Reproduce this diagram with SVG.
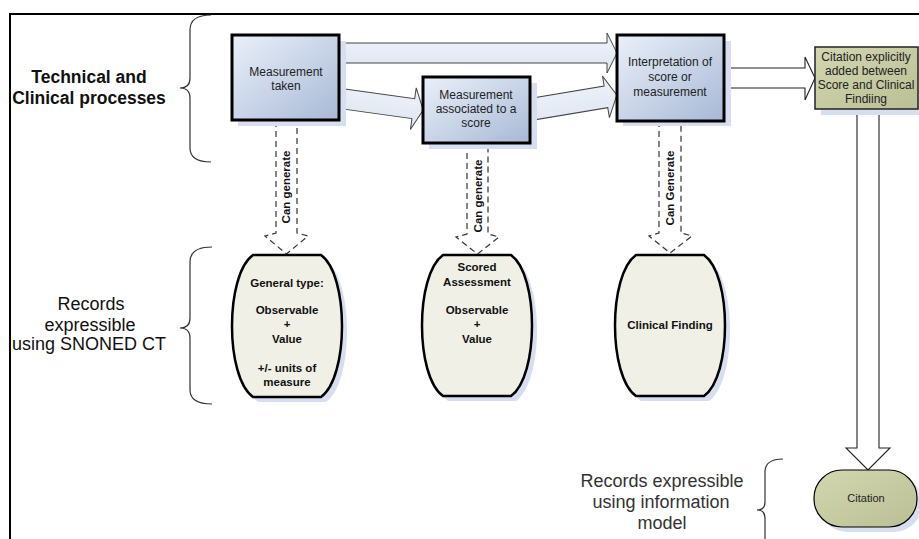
<svg xmlns="http://www.w3.org/2000/svg" width="919" height="539" viewBox="0 0 919 539">
<defs>
<linearGradient id="gBlue" x1="0" y1="0" x2="1" y2="1">
<stop offset="0" stop-color="#eaf0f9"/>
<stop offset="1" stop-color="#a8b9d6"/>
</linearGradient>
<linearGradient id="gOlive" x1="0" y1="0" x2="1" y2="1">
<stop offset="0" stop-color="#d3d7b0"/>
<stop offset="1" stop-color="#bbbf95"/>
</linearGradient>
<linearGradient id="gArrow" x1="0" y1="0" x2="0" y2="1">
<stop offset="0" stop-color="#eef2f9"/>
<stop offset="1" stop-color="#dfe6f2"/>
</linearGradient>
<style>
.frame{fill:none;stroke:#000;stroke-width:2}
.brace{fill:none;stroke:#333;stroke-width:1.2}
.box{fill:url(#gBlue);stroke:#000;stroke-width:3}
.shadow{fill:#d6deef}
.cite{fill:url(#gOlive);stroke:#222;stroke-width:1.5}
.barrel{fill:#f1f0e7;stroke:#000;stroke-width:2.5}
.blk{fill:url(#gArrow);stroke:#444;stroke-width:1}
.wblk{fill:#fff;stroke:#222;stroke-width:1.1}
.dash{fill:none;stroke:#333;stroke-width:1.2;stroke-dasharray:6 4}
.big{font-family:"Liberation Sans",Arial,sans-serif;font-size:18px;fill:#111;text-anchor:middle}
.bigb{font-family:"Liberation Sans",Arial,sans-serif;font-size:17.5px;font-weight:bold;fill:#111;text-anchor:middle}
.lbl{font-family:"Liberation Sans",Arial,sans-serif;font-size:12px;fill:#222;text-anchor:middle}
.bold{font-family:"Liberation Sans",Arial,sans-serif;font-size:11.5px;font-weight:bold;fill:#111;text-anchor:middle}
.info{font-family:"Liberation Sans",Arial,sans-serif;font-size:18px;fill:#333;text-anchor:middle}
</style>
</defs>
<rect width="919" height="539" fill="#fff"/>
<path class="frame" d="M10,540 L10,14 L920,14"/>

<g id="labels">
<path class="brace" d="M211,15 Q190,15 190,30 L190,78 Q190,88 180,88 Q190,88 190,98 L190,148 Q190,162 211,162"/>
<text class="bigb" x="89" y="83">Technical and</text>
<text class="bigb" x="89" y="104">Clinical processes</text>
<path class="brace" d="M212,247 Q190,247 190,262 L190,318 Q190,328 180,328 Q190,328 190,338 L190,390 Q190,404 212,404"/>
<text class="big" x="91" y="310">Records</text>
<text class="big" x="90" y="331">expressible</text>
<text class="big" x="89" y="350">using SNONED CT</text>
<path class="brace" d="M783,459 Q765,459 765,472 L765,502 Q765,510 757,510 Q765,510 765,518 L765,545"/>
<text class="info" x="662" y="487">Records expressible</text>
<text class="info" x="661" y="508">using information</text>
<text class="info" x="662" y="529">model</text>
</g>

<g id="connectors">
<polygon class="blk" points="340,43 607,43 607,33 617,53 607,73 607,63 340,63"/>
<g transform="translate(340,98.5) rotate(7.9)">
<polygon class="blk" points="0,-10 74,-10 74,-21 84,0 74,21 74,10 0,10"/>
</g>
<g transform="translate(530,109.5) rotate(-9.46)">
<polygon class="blk" points="0,-11 77,-11 77,-21 88,0 77,21 77,11 0,11"/>
</g>
<polygon class="wblk" points="724,68 805,68 805,57 815,78 805,100 805,88 724,88"/>
<polygon class="wblk" points="857,109 857,448 846,448 868,470 890,448 879,448 879,109"/>

<path class="dash" d="M276,121 L276,233 L265,236 L286.5,254 L308,236 L297,233 L297,121"/>
<text class="bold" transform="translate(286,187) rotate(-90)" y="4">Can generate</text>
<path class="dash" d="M467,143 L467,234 L456,237 L477.5,254 L499,237 L488,234 L488,143"/>
<text class="bold" transform="translate(478,196) rotate(-90)" y="4">Can generate</text>
<path class="dash" d="M659,121 L659,233 L649,236 L670,253 L692,236 L681,233 L681,121"/>
<text class="bold" transform="translate(670,188) rotate(-90)" y="4">Can Generate</text>
</g>

<g id="n-measurement-taken">
<rect class="shadow" x="238" y="41" width="108" height="85"/>
<rect class="box" x="232" y="35" width="107" height="85"/>
<text class="lbl" x="286" y="76">Measurement</text>
<text class="lbl" x="286" y="90">taken</text>
</g>
<g id="n-measurement-score">
<rect class="shadow" x="429" y="83" width="108" height="66"/>
<rect class="box" x="423" y="77" width="107" height="66"/>
<text class="lbl" x="476" y="99">Measurement</text>
<text class="lbl" x="476" y="113">associated to a</text>
<text class="lbl" x="476" y="127">score</text>
</g>
<g id="n-interpretation">
<rect class="shadow" x="623" y="41" width="108" height="85"/>
<rect class="box" x="617" y="35" width="107" height="86"/>
<text class="lbl" x="670" y="66">Interpretation of</text>
<text class="lbl" x="670" y="81">score or</text>
<text class="lbl" x="670" y="96">measurement</text>
</g>
<g id="n-citation-added">
<rect class="shadow" x="821" y="53" width="103" height="62"/>
<rect class="cite" x="815" y="47" width="103" height="62"/>
<text class="lbl" x="866" y="61">Citation explicitly</text>
<text class="lbl" x="866" y="75">added between</text>
<text class="lbl" x="866" y="89">Score and Clinical</text>
<text class="lbl" x="866" y="103">Findiing</text>
</g>

<g id="n-general-type">
<path class="shadow" transform="translate(5,5)" d="M253,255 L321,255 C349,275 349,377 321,397 L253,397 C225,377 225,275 253,255 Z"/>
<path class="barrel" d="M253,255 L321,255 C349,275 349,377 321,397 L253,397 C225,377 225,275 253,255 Z"/>
<text class="bold" x="287" y="287">General type:</text>
<text class="bold" x="287" y="314">Observable</text>
<text class="bold" x="287" y="328">+</text>
<text class="bold" x="287" y="343">Value</text>
<text class="bold" x="287" y="372">+/- units of</text>
<text class="bold" x="287" y="386">measure</text>
</g>
<g id="n-scored-assessment">
<path class="shadow" transform="translate(5,5)" d="M443,255 L511,255 C539,275 539,376 511,396 L443,396 C415,376 415,275 443,255 Z"/>
<path class="barrel" d="M443,255 L511,255 C539,275 539,376 511,396 L443,396 C415,376 415,275 443,255 Z"/>
<text class="bold" x="477" y="271">Scored</text>
<text class="bold" x="477" y="286">Assessment</text>
<text class="bold" x="477" y="314">Observable</text>
<text class="bold" x="477" y="328">+</text>
<text class="bold" x="477" y="343">Value</text>
</g>
<g id="n-clinical-finding">
<path class="shadow" transform="translate(5,5)" d="M636,255 L704,255 C732,275 732,376 704,396 L636,396 C608,376 608,275 636,255 Z"/>
<path class="barrel" d="M636,255 L704,255 C732,275 732,376 704,396 L636,396 C608,376 608,275 636,255 Z"/>
<text class="bold" x="670" y="329">Clinical Finding</text>
</g>
<g id="n-citation">
<rect class="shadow" x="819" y="475" width="103" height="57" rx="28"/>
<rect class="cite" x="814" y="470" width="103" height="57" rx="28" style="stroke:#000;stroke-width:1.2"/>
<text class="lbl" x="866" y="502" style="font-size:11px">Citation</text>
</g>
</svg>
